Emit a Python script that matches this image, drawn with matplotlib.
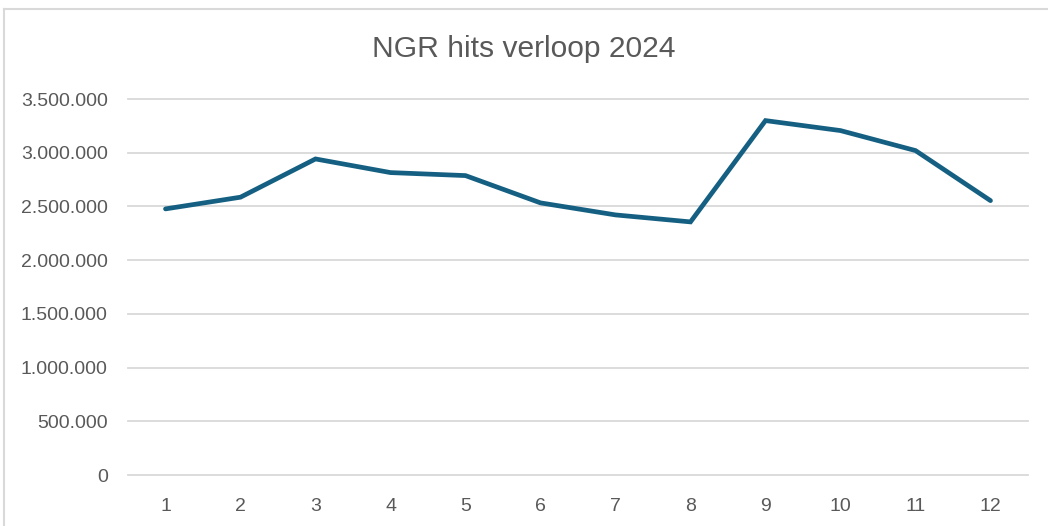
import matplotlib
matplotlib.use("Agg")
import matplotlib.pyplot as plt
from matplotlib.lines import Line2D
from matplotlib.ticker import FuncFormatter, MultipleLocator

# maanden en hits
maanden = [1, 2, 3, 4, 5, 6, 7, 8, 9, 10, 11, 12]
hits = [2477000, 2586000, 2942000, 2815000, 2787000, 2533000,
        2421000, 2356000, 3299000, 3206000, 3020000, 2554000]

LIJN = "#156082"
GRIJS = "#595959"
RASTER = "#D9D9D9"

plt.rcParams['font.family'] = ['Liberation Sans', 'DejaVu Sans']

fig = plt.figure(figsize=(10.48, 5.26), dpi=100)
ax = fig.add_axes([128 / 1048, 51 / 526, 900 / 1048, 376 / 526])

ax.plot(maanden, hits, color=LIJN, linewidth=3.4, solid_capstyle='round',
        solid_joinstyle='miter', zorder=3)

ax.set_xlim(0.5, 12.5)
ax.set_ylim(0, 3500000)
ax.yaxis.set_major_locator(MultipleLocator(500000))
ax.yaxis.set_major_formatter(FuncFormatter(lambda v, p: f"{int(v):,}".replace(",", ".")))
ax.set_xticks(maanden)
ax.grid(axis='y', color=RASTER, linewidth=1.3, zorder=0)
for gl in ax.get_ygridlines():
    gl.set_clip_on(False)
for s in ax.spines.values():
    s.set_visible(False)
ax.tick_params(length=0, labelsize=14, colors=GRIJS)
ax.tick_params(axis='y', pad=14.5)
ax.tick_params(axis='x', pad=16.5)

fig.text(0.5, 1 - 49 / 526, "NGR hits verloop 2024", ha='center', va='center',
         fontsize=21.6, color=GRIJS)

# kader van het grafiekgebied
fig.add_artist(Line2D([4 / 1048, 1.01], [1 - 8.5 / 526, 1 - 8.5 / 526],
                      color=RASTER, linewidth=1.5, transform=fig.transFigure))
fig.add_artist(Line2D([4 / 1048, 4 / 1048], [-0.01, 1 - 8.5 / 526],
                      color=RASTER, linewidth=1.5, transform=fig.transFigure))

fig.savefig("out.png", dpi=100)
